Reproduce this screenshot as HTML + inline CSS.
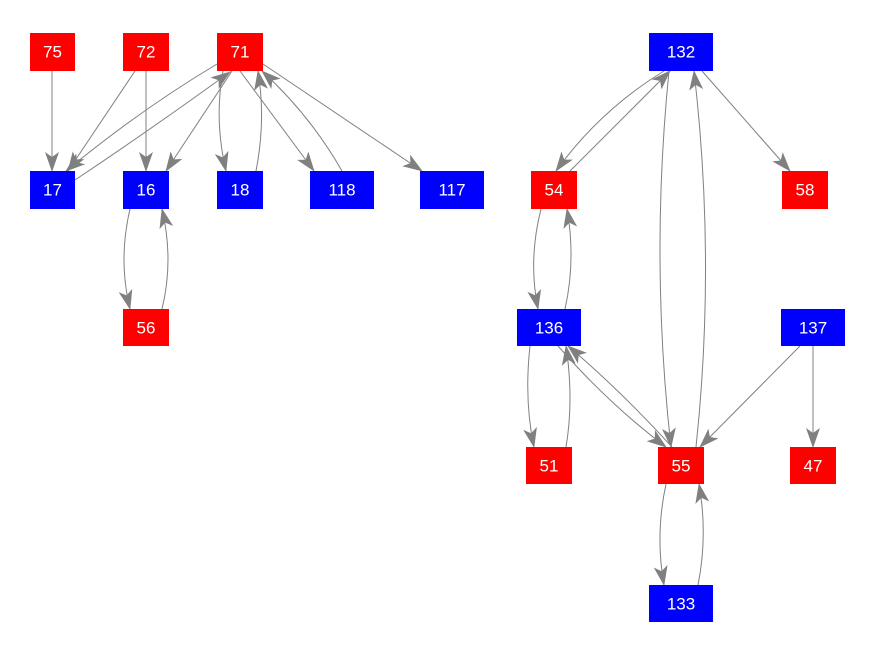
<!DOCTYPE html>
<html><head><meta charset="utf-8"><style>
html,body{margin:0;padding:0;background:#fff;}
svg{display:block;}
text{font-family:"Liberation Sans",Arial,sans-serif;font-size:17px;fill:#fff;text-anchor:middle;dominant-baseline:central;}
path{fill:none;stroke:#808080;stroke-width:1;}
</style></head><body>
<svg width="876" height="656" viewBox="0 0 876 656" xmlns="http://www.w3.org/2000/svg">
<defs>
<marker id="a" markerWidth="20" markerHeight="14" refX="19" refY="7" orient="auto" markerUnits="userSpaceOnUse">
<path d="M0,0 L20,7 L0,14 L5,7 Z" style="fill:#808080;stroke:none"/>
</marker>
</defs>
<g marker-end="url(#a)">
<path d="M52,71 L52,171"/>
<path d="M135,71 L68,171"/>
<path d="M146,71 L146,171"/>
<path d="M217,64 Q140,110 66,171"/>
<path d="M75,180 Q150,130 230,72"/>
<path d="M232,71 L166,171"/>
<path d="M223,71 Q214,120 226,171"/>
<path d="M256,171 Q266,120 258,71"/>
<path d="M240,71 L314,171"/>
<path d="M342,171 Q310,115 262,71"/>
<path d="M263,64 L422,171"/>
<path d="M130,209 Q118,260 130,309"/>
<path d="M162,309 Q174,260 162,209"/>
<path d="M664,71 Q600,110 556,171"/>
<path d="M570,171 L670,71"/>
<path d="M702,71 L790,171"/>
<path d="M669,71 Q650,260 671,447"/>
<path d="M696,447 Q716,260 694,71"/>
<path d="M541,209 Q528,260 538,309"/>
<path d="M565,309 Q576,260 567,209"/>
<path d="M530,346 Q524,400 534,447"/>
<path d="M566,447 Q574,400 566,346"/>
<path d="M558,346 Q610,405 666,447"/>
<path d="M672,447 Q620,390 568,346"/>
<path d="M800,346 L700,447"/>
<path d="M813,346 L813,447"/>
<path d="M666,484 Q655,535 664,585"/>
<path d="M698,585 Q708,535 699,484"/>
</g>
<g>
<rect x="30" y="33" width="45" height="38" fill="#f00"/><text x="52.5" y="52">75</text>
<rect x="123" y="33" width="46" height="38" fill="#f00"/><text x="146" y="52">72</text>
<rect x="217" y="33" width="46" height="38" fill="#f00"/><text x="240" y="52">71</text>
<rect x="30" y="171" width="45" height="38" fill="#00f"/><text x="52.5" y="190">17</text>
<rect x="123" y="171" width="46" height="38" fill="#00f"/><text x="146" y="190">16</text>
<rect x="217" y="171" width="46" height="38" fill="#00f"/><text x="240" y="190">18</text>
<rect x="310" y="171" width="64" height="38" fill="#00f"/><text x="342" y="190">118</text>
<rect x="420" y="171" width="64" height="38" fill="#00f"/><text x="452" y="190">117</text>
<rect x="123" y="309" width="46" height="37" fill="#f00"/><text x="146" y="328">56</text>
<rect x="649" y="33" width="64" height="38" fill="#00f"/><text x="681" y="52">132</text>
<rect x="531" y="171" width="46" height="38" fill="#f00"/><text x="554" y="190">54</text>
<rect x="782" y="171" width="46" height="38" fill="#f00"/><text x="805" y="190">58</text>
<rect x="517" y="309" width="64" height="37" fill="#00f"/><text x="549" y="328">136</text>
<rect x="781" y="309" width="64" height="37" fill="#00f"/><text x="813" y="328">137</text>
<rect x="526" y="447" width="46" height="37" fill="#f00"/><text x="549" y="466">51</text>
<rect x="658" y="447" width="46" height="37" fill="#f00"/><text x="681" y="466">55</text>
<rect x="790" y="447" width="46" height="37" fill="#f00"/><text x="813" y="466">47</text>
<rect x="649" y="585" width="64" height="37" fill="#00f"/><text x="681" y="604">133</text>
</g>
</svg>
</body></html>
